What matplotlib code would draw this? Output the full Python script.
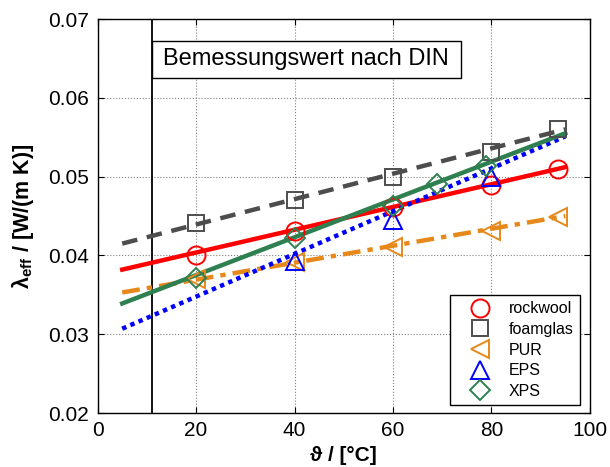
import matplotlib
matplotlib.use('Agg')
import matplotlib.pyplot as plt
from matplotlib.patches import Rectangle

# measured values (temperature in degC, lambda_eff in W/(m K))
rockwool_t = [20, 40, 60, 80, 93.6]
rockwool_l = [0.0400, 0.0431, 0.0461, 0.0489, 0.0510]
foamglas_t = [20, 40, 60, 80, 93.6]
foamglas_l = [0.0441, 0.0470, 0.0500, 0.0531, 0.0560]
pur_t = [20, 40, 60, 80, 93.6]
pur_l = [0.0370, 0.0392, 0.0411, 0.0431, 0.0449]
eps_t = [40, 60, 80]
eps_l = [0.0393, 0.0445, 0.0499]
xps_t = [20, 40, 60, 69, 79]
xps_l = [0.0371, 0.0422, 0.0463, 0.0491, 0.0513]

# regression lines (end points)
fit_t = [5, 95]
rockwool_fit = [0.0382, 0.0512]
foamglas_fit = [0.0415, 0.0560]
pur_fit = [0.0353, 0.0450]
eps_fit = [0.0307, 0.0551]
xps_fit = [0.0339, 0.0555]

din_t = 11

c_red = '#ff0000'
c_gray = '#4d4d4d'
c_orange = '#e6891a'
c_blue = '#0000ff'
c_green = '#2e8050'

plt.rcParams['font.family'] = ['Liberation Sans', 'DejaVu Sans']
plt.rcParams['mathtext.fontset'] = 'custom'
plt.rcParams['mathtext.rm'] = 'Liberation Sans'
plt.rcParams['mathtext.bf'] = 'Liberation Sans:bold'

fig = plt.figure(figsize=(6.1, 4.67), dpi=100)
ax = fig.add_axes([0.160, 0.1156, 0.807, 0.8437])

lw = 3.2
ax.plot(fit_t, rockwool_fit, '-', color=c_red, lw=lw, zorder=3)
ax.plot(fit_t, foamglas_fit, '--', color=c_gray, lw=lw, dashes=(3.5, 2.2), zorder=3)
ax.plot(fit_t, pur_fit, '-.', color=c_orange, lw=lw, dashes=(4, 1.6, 1.2, 1.6), zorder=3)
ax.plot(fit_t, eps_fit, ':', color=c_blue, lw=lw, dashes=(1, 1), zorder=3)
ax.plot(fit_t, xps_fit, '-', color=c_green, lw=lw, zorder=3)

mew = 1.4
ax.plot(rockwool_t, rockwool_l, 'o', ms=13, mfc='none', mec=c_red, mew=mew, label='rockwool', zorder=4)
ax.plot(foamglas_t, foamglas_l, 's', ms=12, mfc='none', mec=c_gray, mew=mew, label='foamglas', zorder=4)
ax.plot(pur_t, pur_l, '<', ms=13, mfc='none', mec=c_orange, mew=mew, label='PUR', zorder=4)
ax.plot(eps_t, eps_l, '^', ms=13, mfc='none', mec=c_blue, mew=mew, label='EPS', zorder=4)
ax.plot(xps_t, xps_l, 'D', ms=10.5, mfc='none', mec=c_green, mew=mew, label='XPS', zorder=4)

ax.axvline(din_t, color='black', lw=1.3, zorder=2)
ax.add_patch(Rectangle((11, 0.0625), 62.8, 0.0047, facecolor='white',
                       edgecolor='black', lw=1.0, zorder=5))
ax.text(42.4, 0.06487, 'Bemessungswert nach DIN', fontsize=17,
        ha='center', va='center', zorder=6)

ax.set_xlim(0, 100)
ax.set_ylim(0.02, 0.07)
ax.set_xticks(range(0, 101, 20))
ax.set_yticks([0.02, 0.03, 0.04, 0.05, 0.06, 0.07])
ax.set_yticklabels(['0.02', '0.03', '0.04', '0.05', '0.06', '0.07'])
ax.tick_params(direction='in', length=4, width=0.8, top=True, right=True,
               labelsize=15, pad=6)
ax.grid(True, color='#808080', linestyle=':', lw=0.8)
for s in ax.spines.values():
    s.set_linewidth(1.0)

ax.set_xlabel('ϑ / [°C]', fontsize=15, fontweight='bold', labelpad=4)
ax.set_ylabel('λ$_{\\mathbf{eff}}$ / [W/(m K)]', fontsize=15.5, fontweight='bold', labelpad=9)

leg = ax.legend(loc='lower right', bbox_to_anchor=(0.980, 0.020), borderaxespad=0,
                fontsize=11.5, frameon=True, fancybox=False, edgecolor='black',
                framealpha=1, handlelength=3.0, handletextpad=0.3,
                labelspacing=0.35, borderpad=0.4)
leg.get_frame().set_linewidth(1.0)

fig.savefig('out.png', dpi=100)
